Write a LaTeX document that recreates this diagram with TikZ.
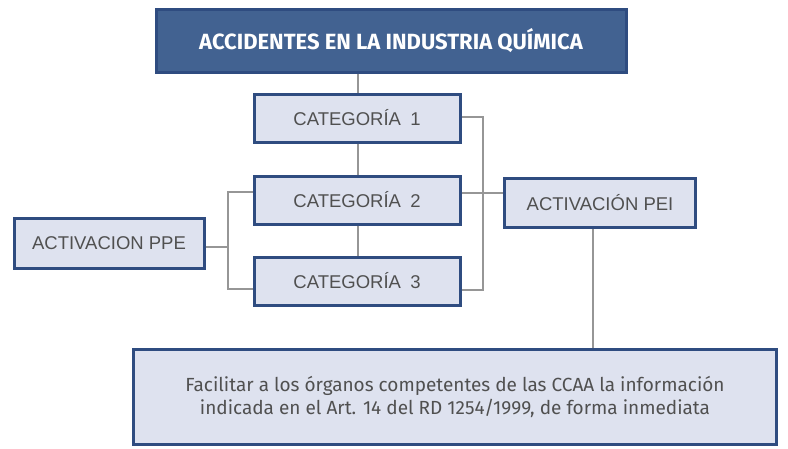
\documentclass[tikz,border=0pt]{standalone}
\usepackage{fontspec}
\setmainfont{Liberation Sans}
\newfontfamily\dinfont{Fira Sans}
\usetikzlibrary{positioning}

\definecolor{boxblue}{RGB}{47,76,128}
\definecolor{titleblue}{RGB}{66,98,145}
\definecolor{boxfill}{RGB}{222,226,239}
\definecolor{linkgray}{RGB}{150,150,150}
\definecolor{textgray}{RGB}{80,80,80}

\tikzset{
  titlebox/.style={draw=boxblue, line width=3pt, fill=titleblue, text=white,
    minimum width=470pt, minimum height=63pt, inner sep=0pt,
    font=\dinfont\bfseries\fontsize{22}{24}\selectfont},
  catbox/.style={draw=boxblue, line width=3pt, fill=boxfill, text=textgray,
    minimum width=206pt, minimum height=48pt, inner sep=0pt,
    font=\fontsize{18.5}{20}\selectfont},
  infobox/.style={draw=boxblue, line width=3pt, fill=boxfill, text=textgray,
    minimum width=643pt, minimum height=95pt, inner sep=0pt, align=center,
    font=\dinfont\fontsize{19}{23}\selectfont},
  link/.style={draw=linkgray, line width=1.6pt}
}

\begin{document}
\begin{tikzpicture}[x=1pt, y=-1pt]
  \useasboundingbox (0,0) rectangle (788,448);

  \node [titlebox](acc) at (391,40.5) {ACCIDENTES EN LA INDUSTRIA QUÍMICA};
  \node [catbox](cat1) at (357,118) {CATEGORÍA\enspace 1};
  \node [catbox](cat2) at (357,200) {CATEGORÍA\enspace 2};
  \node [catbox](cat3) at (357,281) {CATEGORÍA\enspace 3};
  \node [catbox, minimum width=190pt, minimum height=50pt](ppe) at (109,243) {ACTIVACION PPE};
  \node [catbox, minimum width=191pt, minimum height=49pt](pei) at (600,203) {ACTIVACIÓN PEI};
  \node [infobox](info) at (455,397)
    {Facilitar a los órganos competentes de las CCAA la información\\
     indicada en el Art. 14 del RD 1254/1999, de forma inmediata};

  % bracket points
  \coordinate (rtop) at (483,117);
  \coordinate (rbot) at (483,290);
  \coordinate (ltop) at (228,192);
  \coordinate (lbot) at (228,289);

  % vertical chain
  \draw[link] ([xshift=1pt]cat1.north |- acc.south) -- ([xshift=1pt]cat1.north);
  \draw[link] ([xshift=1pt]cat1.south) -- ([xshift=1pt]cat2.north);
  \draw[link] ([xshift=1pt]cat2.south) -- ([xshift=1pt]cat3.north);

  % right bracket to PEI
  \draw[link] (cat1.east |- rtop) -- (rtop) -- (rbot) -- (cat3.east |- rbot);
  \draw[link] ([yshift=7pt]cat2.east) -- ([yshift=10pt]pei.west);

  % left bracket to PPE
  \draw[link] (cat2.west |- ltop) -- (ltop) -- (lbot) -- (cat3.west |- lbot);
  \draw[link] ([yshift=-4pt]ppe.east) -- ([yshift=-4pt]ppe.east -| ltop);

  % PEI down to info
  \draw[link] ([xshift=-7pt]pei.south) -- ([xshift=-7pt]pei.south |- info.north);
\end{tikzpicture}
\end{document}
